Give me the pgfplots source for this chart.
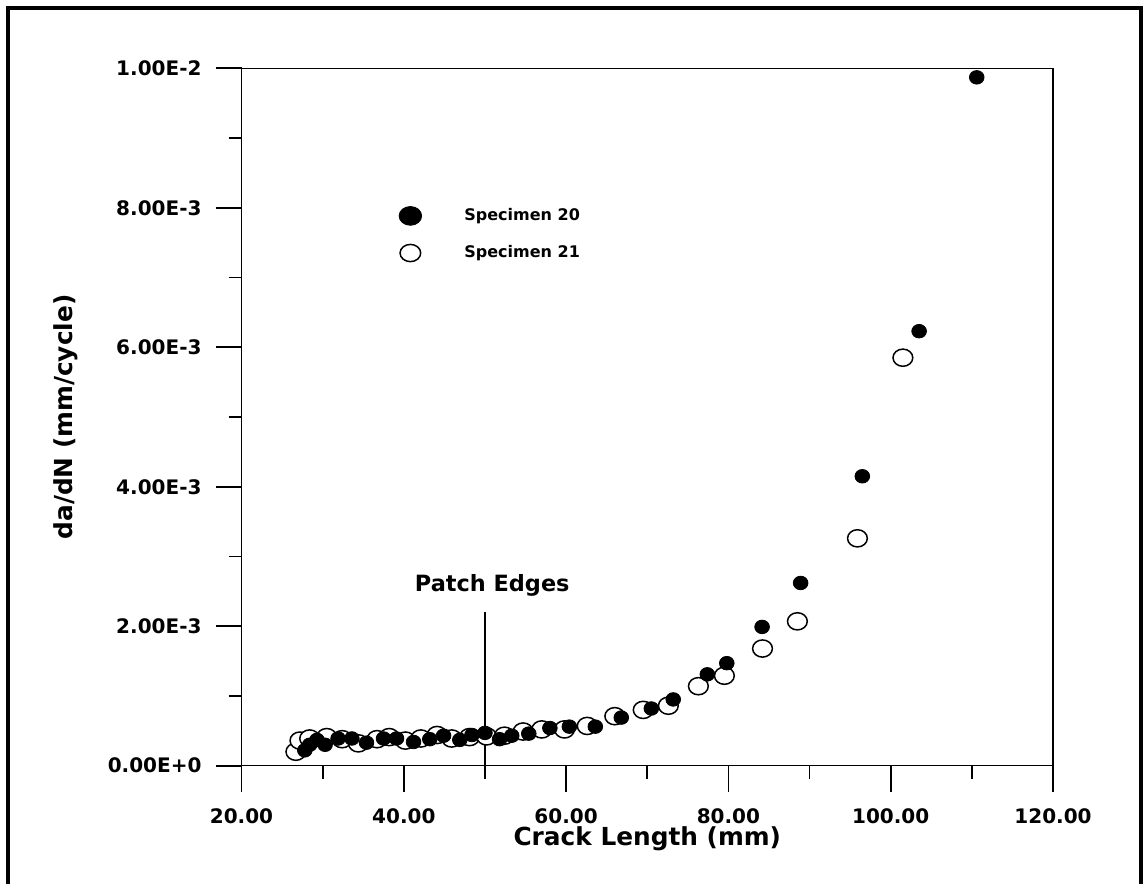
\documentclass[border=0pt]{standalone}
\usepackage{fontspec}
\setmainfont{DejaVu Sans}
\usepackage{pgfplots}
\pgfplotsset{compat=1.18}

% crack growth rate, units: mm and mm/cycle
\newcommand\ticklab{\bfseries\fontsize{10bp}{12bp}\selectfont}
\newcommand\axlab{\bfseries\fontsize{12.4bp}{14bp}\selectfont}

\begin{document}
\begin{tikzpicture}[x=1bp,y=1bp]
\useasboundingbox (0,0) rectangle (571.5,442);
\draw[line width=1.6bp] (4,0) -- (4,438) -- (570.5,438) -- (570.5,0);
\begin{axis}[
  at={(120.75bp,59.15bp)}, anchor=south west,
  scale only axis, width=405.75bp, height=348.7bp,
  xmin=20, xmax=120, ymin=0, ymax=0.01,
  xtick={20,40,60,80,100,120},
  xticklabels={20.00,40.00,60.00,80.00,100.00,120.00},
  ytick={0,0.002,0.004,0.006,0.008,0.01},
  yticklabels={0.00E+0,2.00E-3,4.00E-3,6.00E-3,8.00E-3,1.00E-2},
  scaled y ticks=false,
  minor x tick num=1, minor y tick num=1,
  tick align=outside, tick pos=left,
  major tick length=13bp, minor tick length=6.5bp,
  tick style={line width=0.9bp, black},
  axis line style={line width=0.7bp},
  tick label style={font=\ticklab},
  xticklabel style={yshift=-5bp},
  yticklabel style={xshift=-3.5bp},
  xlabel={Crack Length (mm)},
  ylabel={da/dN (mm/cycle)},
  label style={font=\axlab},
  xlabel style={at={(axis description cs:0.5,-0.1053)}, anchor=center},
  ylabel style={at={(axis description cs:-0.2163,0.5)}, anchor=center},
  legend style={at={(0.1805,0.7617)}, anchor=west, draw=none, fill=none,
    inner sep=0pt, row sep=7bp, column sep=14bp,
    font=\bfseries\fontsize{8bp}{9bp}\selectfont},
  legend cell align=left,
  legend image code/.code={
    \path[draw=none, fill=none] (0bp,-4bp) rectangle (22bp,4bp);
    \draw[#1] plot coordinates {(11bp,0bp)};
  },
]
% Specimen 21 (open)
\addplot[only marks, mark=*, mark size=4.3bp,
  mark options={draw=black, fill=white, line width=0.75bp, xscale=1.15},
  forget plot] coordinates {
  (26.7,2.0e-4) (27.2,3.6e-4) (28.4,3.9e-4) (30.5,4.1e-4) (32.4,3.8e-4)
  (34.4,3.2e-4) (36.7,3.8e-4) (38.2,4.1e-4) (40.2,3.6e-4) (42.1,3.9e-4)
  (44.1,4.4e-4) (45.9,3.9e-4) (48.1,4.1e-4) (50.2,4.2e-4) (52.4,4.3e-4)
  (54.7,4.9e-4) (57.0,5.2e-4) (59.8,5.2e-4) (62.6,5.7e-4) (66.0,7.1e-4)
  (69.5,8.0e-4) (72.6,8.6e-4) (76.3,1.14e-3) (79.5,1.29e-3) (84.2,1.68e-3)
  (88.5,2.07e-3) (95.9,3.26e-3) (101.5,5.85e-3)
};
% Specimen 20 (filled)
\addplot[only marks, mark=*, mark size=3.4bp,
  mark options={draw=black, fill=black, xscale=1.08},
  forget plot] coordinates {
  (27.8,2.2e-4) (28.4,3.0e-4) (29.3,3.7e-4) (30.3,3.0e-4) (31.9,3.9e-4)
  (33.6,3.9e-4) (35.4,3.3e-4) (37.5,3.9e-4) (39.1,3.9e-4) (41.2,3.4e-4)
  (43.2,3.8e-4) (44.9,4.3e-4) (46.9,3.7e-4) (48.4,4.4e-4) (50.0,4.7e-4)
  (51.8,3.8e-4) (53.3,4.3e-4) (55.4,4.6e-4) (58.0,5.4e-4) (60.4,5.6e-4)
  (63.6,5.6e-4) (66.8,6.9e-4) (70.5,8.2e-4) (73.2,9.5e-4) (77.4,1.31e-3)
  (79.8,1.47e-3) (84.15,1.99e-3) (88.9,2.62e-3) (96.5,4.15e-3)
  (103.5,6.23e-3) (110.6,9.87e-3)
};
\addlegendimage{only marks, mark=*, mark size=4.7bp,
  mark options={draw=black, fill=black, xscale=1.2}}
\addlegendentry{Specimen 20}
\addlegendimage{only marks, mark=*, mark size=4.3bp,
  mark options={draw=black, fill=white, line width=0.75bp, xscale=1.2}}
\addlegendentry{Specimen 21}

\draw[line width=0.6bp] (axis cs:50,0) -- (axis cs:50,0.00221);
\node[anchor=base, font=\bfseries\fontsize{11.2bp}{13bp}\selectfont]
  at (axis cs:50.9,0.0025) {Patch Edges};
\end{axis}
\end{tikzpicture}
\end{document}
